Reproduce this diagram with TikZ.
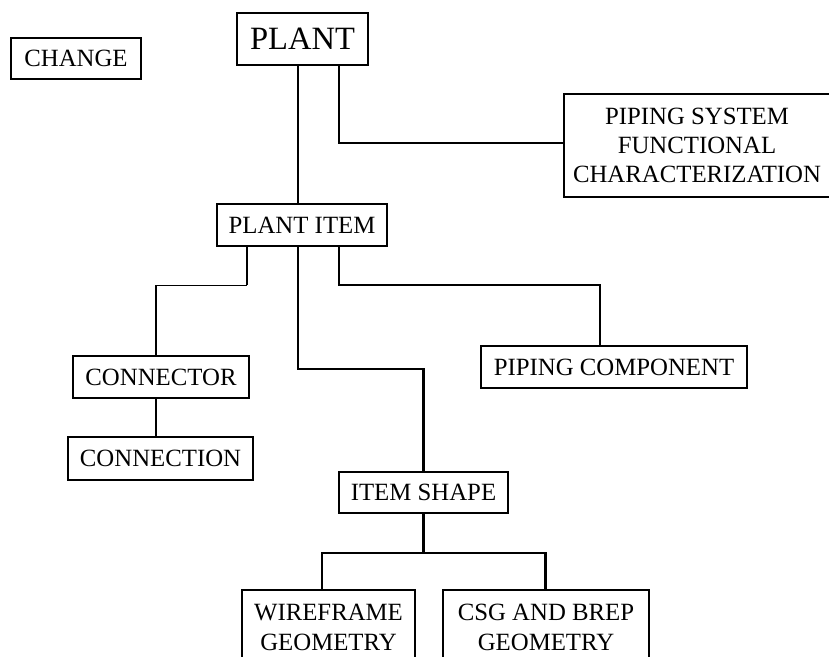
\documentclass[tikz,border=0pt]{standalone}
\usepackage{fontspec}
\setmainfont{Liberation Serif}
\tikzset{
	entity/.style={draw,line width=1.8pt,inner sep=0pt,align=center,
		font=\fontsize{18.6}{22}\selectfont},
	link/.style={line width=1.6pt},
	thinlink/.style={line width=0.9pt}
}
\begin{document}
\begin{tikzpicture}[x=0.75pt,y=-0.75pt]
\def\LINEGAP{38}
	\useasboundingbox (0,0) rectangle (829,657);
	\clip (0,0) rectangle (829,657);
	\node[entity,minimum width=97.5pt,minimum height=30.75pt] (change) at (76,58.5) {CHANGE};
	\node[entity,minimum width=98.25pt,minimum height=39pt,font=\fontsize{24.4}{28}\selectfont] (plant) at (302.5,39) {PLANT};
	\node[entity,minimum width=199.5pt,minimum height=77.25pt] (pipingsystem) at (697,145.5) {PIPING SYSTEM\\FUNCTIONAL\\CHARACTERIZATION};
	\node[entity,minimum width=127.5pt,minimum height=31.5pt] (plantitem) at (302,225) {PLANT ITEM};
	\node[entity,minimum width=132pt,minimum height=31.5pt] (connector) at (161,377) {CONNECTOR};
	\node[entity,minimum width=138.75pt,minimum height=32.25pt] (connection) at (160.5,458.5) {CONNECTION};
	\node[entity,minimum width=199.5pt,minimum height=31.5pt] (pipingcomponent) at (614,367) {PIPING COMPONENT};
	\node[entity,minimum width=126.75pt,minimum height=30.75pt] (itemshape) at (423.5,492.5) {ITEM SHAPE};
	\node[entity,minimum width=129.75pt,minimum height=56.25pt] (wireframe) at (328.5,627.5) {WIREFRAME\\GEOMETRY};
	\node[entity,minimum width=154.5pt,minimum height=56.25pt] (csgbrep) at (546,627.5) {CSG AND BREP\\GEOMETRY};

	\draw[link] ([xshift=-3.4pt]plant.south) -- ([xshift=-3.4pt]plant.south |- plantitem.north);
	\draw[link] ([xshift=27.4pt]plant.south) |- ([yshift=2pt]pipingsystem.west);

	\draw[link] ([xshift=-41.25pt]plantitem.south) -- ++(0,\LINEGAP) coordinate (connfork);
	\draw[thinlink] (connfork) -| ([xshift=-3.75pt]connector.north);
	\draw[thinlink] ([xshift=-3.75pt]connector.south) -- ([xshift=-3.75pt]connector.south |- connection.north);
	\draw[link] ([xshift=-3pt]plantitem.south) -- ++(0,122) -| (itemshape.north);
	\draw[link] ([xshift=27.75pt]plantitem.south) -- ++(0,\LINEGAP) -| ([xshift=-10.5pt]pipingcomponent.north);

	\draw[link] (itemshape.south) -- ++(0,39) coordinate (shapefork);
	\draw[link] (shapefork) -| ([xshift=-4.9pt]wireframe.north);
	\draw[link] (shapefork) -| ([xshift=-0.4pt]csgbrep.north);
\end{tikzpicture}
\end{document}
